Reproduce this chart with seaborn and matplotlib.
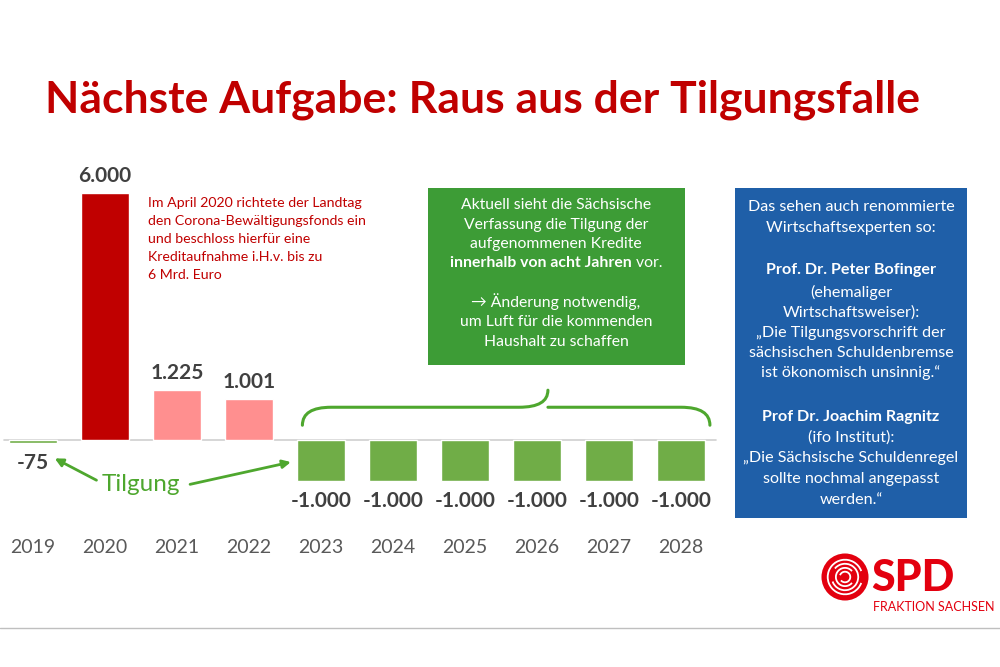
import numpy as np
import matplotlib
matplotlib.use("Agg")
import matplotlib.pyplot as plt
import seaborn as sns
from matplotlib.patches import Rectangle, Circle, PathPatch, Arc
from matplotlib.path import Path

# Data
years = ["2019", "2020", "2021", "2022", "2023", "2024", "2025", "2026", "2027", "2028"]
values = [-75, 6000, 1225, 1001, -1000, -1000, -1000, -1000, -1000, -1000]
labels = ["-75", "6.000", "1.225", "1.001", "-1.000", "-1.000", "-1.000", "-1.000", "-1.000", "-1.000"]
bar_colors = ["#70AD47", "#C00000", "#FF8F8F", "#FF8F8F",
              "#70AD47", "#70AD47", "#70AD47", "#70AD47", "#70AD47", "#70AD47"]

red_note = ["Im April 2020 richtete der Landtag", "den Corona-Bewältigungsfonds ein",
            "und beschloss hierfür eine", "Kreditaufnahme i.H.v. bis zu", "6 Mrd. Euro"]
blue_lines = [("Das sehen auch renommierte", "normal"),
              ("Wirtschaftsexperten so:", "normal"),
              ("Prof. Dr. Peter Bofinger", "bold"),
              ("(ehemaliger", "normal"),
              ("Wirtschaftsweiser):", "normal"),
              ("„Die Tilgungsvorschrift der", "normal"),
              ("sächsischen Schuldenbremse", "normal"),
              ("ist ökonomisch unsinnig.“", "normal"),
              ("Prof Dr. Joachim Ragnitz", "bold"),
              ("(ifo Institut):", "normal"),
              ("„Die Sächsische Schuldenregel", "normal"),
              ("sollte nochmal angepasst", "normal"),
              ("werden.“", "normal")]
blue_y = [207, 228, 270, 292, 313, 333, 353, 373, 417, 438, 458, 479, 500]

RED = "#C00000"
GREEN_TXT = "#4EA72E"
GREEN_BOX = "#3D9C36"
BLUE_BOX = "#1F5FA8"
SPD_RED = "#E3000F"

sns.set_style("white")
plt.rcParams["font.family"] = ["Lato", "DejaVu Sans"]

W, H = 1000, 667
def fx(px):
    return px / W
def fy(py):
    return 1 - py / H

fig = plt.figure(figsize=(10, 6.67), dpi=100)
ax = fig.add_axes([0, 0.205, 0.72, 0.54])

sns.barplot(x=years, y=values, hue=years, palette=bar_colors, width=0.67,
            legend=False, saturation=1, ax=ax)
ax.set_xlim(-0.46, 9.54)
ax.set_ylim(-2184, 6553)
ax.axhline(0, xmin=0.005, xmax=0.995, color="#D0D0D0", lw=1.2, zorder=0)
sns.despine(ax=ax, left=True, bottom=True)
ax.set_yticks([])
ax.set_xlabel("")
ax.set_ylabel("")
ax.tick_params(axis="x", length=0, pad=6, labelsize=14, labelcolor="#595959")

# value labels
for i, (v, lab) in enumerate(zip(values, labels)):
    if v >= 0:
        ax.annotate(lab, (i, v), xytext=(0, 5), textcoords="offset points",
                    ha="center", va="bottom", fontsize=15, fontweight="bold", color="#404040")
    else:
        ax.annotate(lab, (i, v), xytext=(0, -7), textcoords="offset points",
                    ha="center", va="top", fontsize=15, fontweight="bold", color="#404040")

# brace over 2023-2028
x0, x1 = 3.74, 9.40
xm = 7.15
yb, ye, yt = 800, 364, 1214
verts = [(x0, ye), (x0, yb), (x0 + 0.4, yb), (xm - 0.4, yb), (xm, yb), (xm, yt),
         (xm, yb), (xm + 0.4, yb), (x1 - 0.4, yb), (x1, yb), (x1, ye)]
codes = [Path.MOVETO, Path.CURVE3, Path.CURVE3, Path.LINETO, Path.CURVE3, Path.CURVE3,
         Path.MOVETO, Path.CURVE3, Path.LINETO, Path.CURVE3, Path.CURVE3]
ax.add_patch(PathPatch(Path(verts, codes), fill=False, edgecolor=GREEN_TXT, lw=2.2,
                       capstyle="round", clip_on=False))

# Tilgung label and arrows
ax.text(1.5, -1080, "Tilgung", fontsize=17.5, color=GREEN_TXT, ha="center", va="center")
ax.annotate("", xy=(0.3, -440), xytext=(0.88, -970),
            arrowprops=dict(arrowstyle="-|>", color=GREEN_TXT, lw=2, mutation_scale=12,
                            shrinkA=0, shrinkB=0))
ax.annotate("", xy=(3.58, -530), xytext=(2.18, -1070),
            arrowprops=dict(arrowstyle="-|>", color=GREEN_TXT, lw=2, mutation_scale=12,
                            shrinkA=0, shrinkB=0))

# title
fig.text(fx(45), fy(100), "Nächste Aufgabe: Raus aus der Tilgungsfalle", fontsize=32,
         fontweight="bold", color=RED, ha="left", va="center")

# red annotation
for k, t in enumerate(red_note):
    fig.text(fx(148), fy(203 + 18 * k), t, fontsize=10.2, color=RED, ha="left", va="center")

# green box
fig.patches.append(Rectangle((fx(428), fy(365)), fx(685) - fx(428), (365 - 188) / H,
                             transform=fig.transFigure, facecolor=GREEN_BOX, edgecolor="none"))
gx = fx(556)
gfs = 11.3
for t, py in [("Aktuell sieht die Sächsische", 205), ("Verfassung die Tilgung der", 225),
              ("aufgenommenen Kredite", 244), ("→ Änderung notwendig,", 302),
              ("um Luft für die kommenden", 322), ("Haushalt zu schaffen", 342)]:
    fig.text(gx, fy(py), t, fontsize=gfs, color="white", ha="center", va="center")
# mixed bold / normal line
renderer = fig.canvas.get_renderer()
tb = fig.text(0, fy(263), "innerhalb von acht Jahren", fontsize=gfs, color="white",
              fontweight="bold", ha="left", va="center")
tn = fig.text(0, fy(263), " vor.", fontsize=gfs, color="white", ha="left", va="center")
wb = tb.get_window_extent(renderer).width
wn = tn.get_window_extent(renderer).width
start = 556 - (wb + wn) / 2
tb.set_x(fx(start))
tn.set_x(fx(start + wb))

# blue box
fig.patches.append(Rectangle((fx(735), fy(518)), fx(967) - fx(735), (518 - 188) / H,
                             transform=fig.transFigure, facecolor=BLUE_BOX, edgecolor="none"))
for (t, w), py in zip(blue_lines, blue_y):
    fig.text(fx(851), fy(py), t, fontsize=11.6, color="white", fontweight=w,
             ha="center", va="center")

# SPD logo
lax = fig.add_axes([fx(821), fy(601), fx(48), 48 / H])
lax.set_xlim(-1, 1)
lax.set_ylim(-1, 1)
lax.set_aspect("equal")
lax.axis("off")
lax.add_patch(Circle((0, 0), 0.98, facecolor=SPD_RED, edgecolor="none"))
for r, a1, a2 in [(0.72, 20, 340), (0.55, 200, 140), (0.38, 40, 320), (0.22, 220, 160)]:
    lax.add_patch(Arc((0, 0), 2 * r, 2 * r, theta1=a1, theta2=a2, color="white", lw=1.3))
fig.text(fx(871), fy(578), "SPD", fontsize=31, fontweight="black", color=SPD_RED,
         ha="left", va="center")
fig.text(fx(873), fy(607), "FRAKTION SACHSEN", fontsize=9, color=SPD_RED,
         ha="left", va="center")

# bottom rule
fig.add_artist(plt.Line2D([0, 1], [fy(628)] * 2, color="#BFBFBF", lw=1,
                          transform=fig.transFigure))

fig.savefig("out.png", dpi=100, facecolor="white")
